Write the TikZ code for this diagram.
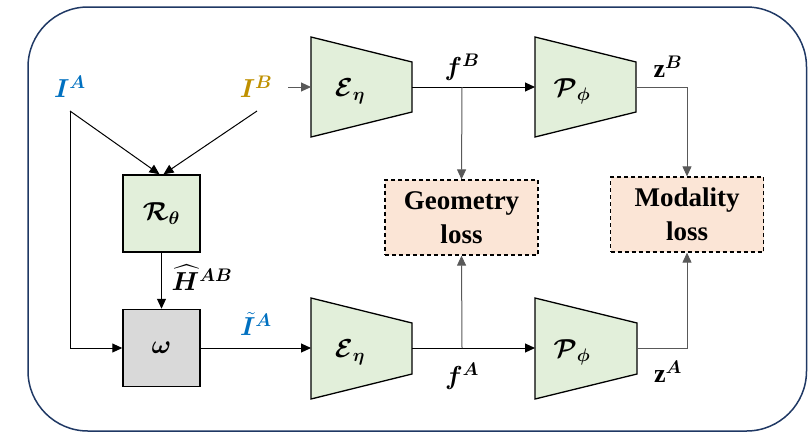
\RequirePackage{fix-cm}
\documentclass[tikz,border=0pt]{standalone}
\usepackage{amsmath}
\usepackage{bm}
\usepackage{fontspec}
\setmainfont{Liberation Serif}
\usetikzlibrary{arrows.meta}
\definecolor{navy}{HTML}{1F3864}
\definecolor{boxgreen}{HTML}{E2EFDA}
\definecolor{lossfill}{HTML}{FBE5D6}
\definecolor{iablue}{HTML}{0070C0}
\definecolor{ibgold}{HTML}{BF9000}
\definecolor{omgray}{HTML}{D9D9D9}
\definecolor{linegray}{HTML}{595959}
\tikzset{
  x=1pt,y=-1pt,
  mathlab/.style={inner sep=0pt, font=\fontsize{26}{30}\selectfont},
  sqbox/.style={draw=black, line width=1.5pt, minimum width=77pt, minimum height=77pt, inner sep=0pt, font=\fontsize{26}{30}\selectfont},
  trap/.style={draw=black, line width=1.3pt, fill=boxgreen},
  lossbox/.style={draw=black, line width=1.3pt, dash pattern=on 4pt off 3pt, fill=lossfill, minimum width=153pt, minimum height=75pt, inner sep=0pt, align=center, font=\fontsize{27}{34}\selectfont\bfseries},
  arr/.style={line width=1pt, -{Triangle[length=10pt,width=9pt]}},
}
\begin{document}
\begin{tikzpicture}
\useasboundingbox (0,0) rectangle (808,432);
% outer frame
\draw[navy, line width=1.5pt, rounded corners=60pt] (28,7) rectangle (806.5,431);

% input labels
\node[mathlab, text=iablue] (IA) at (70,87) {$\bm{I}^{\bm{A}}$};
\node[mathlab, text=ibgold] (IB) at (256,87) {$\bm{I}^{\bm{B}}$};
\coordinate (ia) at (70,111);
\coordinate (ib) at (257,111);
\coordinate (stub) at (288,87);

% R and omega boxes
\node[sqbox, fill=boxgreen] (R) at (161.5,213.5) {$\bm{\mathcal{R}}_{\bm{\theta}}$};
\node[sqbox, fill=omgray] (W) at (161.5,348) {$\bm{\omega}$};

% encoders / projectors
\draw[trap] (311,37) -- (412,62) -- (412,112) -- (311,137) -- cycle;
\draw[trap] (535,37) -- (636,62) -- (636,112) -- (535,137) -- cycle;
\draw[trap] (311,298) -- (412,323) -- (412,374) -- (311,399) -- cycle;
\draw[trap] (535,298) -- (637,323) -- (637,374) -- (535,399) -- cycle;
\node[mathlab] (EB) at (350,91) {$\bm{\mathcal{E}}_{\bm{\eta}}$};
\node[mathlab] (PB) at (572,91) {$\bm{\mathcal{P}}_{\bm{\phi}}$};
\node[mathlab] (EA) at (350,352) {$\bm{\mathcal{E}}_{\bm{\eta}}$};
\node[mathlab] (PA) at (572,352) {$\bm{\mathcal{P}}_{\bm{\phi}}$};
\coordinate (ebin) at (311,87);
\coordinate (ebout) at (412,87);
\coordinate (pbin) at (535,87);
\coordinate (pbout) at (636,87);
\coordinate (eain) at (311,348);
\coordinate (eaout) at (412,348);
\coordinate (pain) at (535,348);
\coordinate (paout) at (637,348);
\coordinate (fb) at (462,87);
\coordinate (fa) at (462,348);

% loss boxes
\node[lossbox] (Geo) at (461.5,217.5) {Geometry\\loss};
\node[lossbox] (Mod) at (687,214.5) {Modality\\loss};

% connectors
\draw[arr] (ia) -- ([xshift=-2pt]R.north);
\draw[arr] (ib) -- ([xshift=2pt]R.north);
\draw[arr] (ia) |- (W.west);
\draw[arr] (R.south) -- (W.north);
\draw[arr] (W.east) -- (eain);
\draw[arr, linegray] (stub) -- (ebin);
\draw[arr] (ebout) -- (pbin);
\draw[arr] (eaout) -- (pain);
\draw[arr, linegray] (fb) -- (Geo.north);
\draw[arr, linegray] (fa) -- (Geo.south);
\draw[arr, linegray] (pbout) -| (Mod.north);
\draw[arr, linegray] (paout) -| (Mod.south);

% connector labels
\node[mathlab] (H) at (202,278) {$\widehat{\bm{H}}^{\bm{AB}}$};
\node[mathlab, text=iablue] (IT) at (256,324) {$\tilde{\bm{I}}^{\bm{A}}$};
\node[mathlab] (FBl) at (462,67) {$\bm{f}^{\bm{B}}$};
\node[mathlab] (FAl) at (462,376) {$\bm{f}^{\bm{A}}$};
\node[mathlab] (ZBl) at (668,67) {$\mathbf{z}^{\bm{B}}$};
\node[mathlab] (ZAl) at (668,372) {$\mathbf{z}^{\bm{A}}$};
\end{tikzpicture}
\end{document}
